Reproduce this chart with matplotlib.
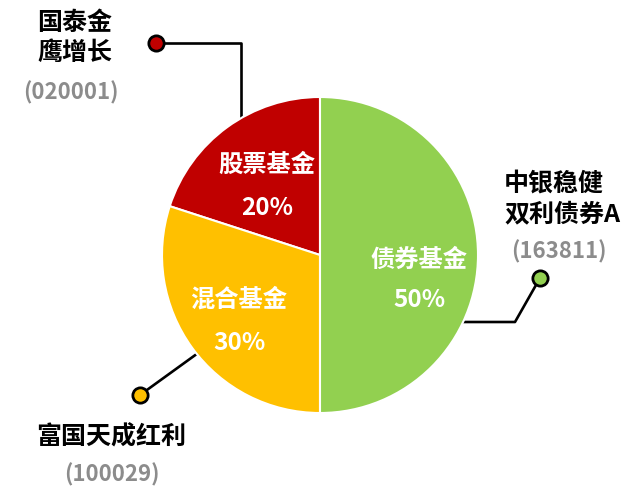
import matplotlib
matplotlib.use("Agg")
import matplotlib.pyplot as plt

plt.rcParams['font.family'] = ['Noto Sans CJK SC', 'DejaVu Sans']

# 基金类型占比
categories = ['股票基金', '混合基金', '债券基金']
shares = [20, 30, 50]
colors = ['#C00000', '#FFC000', '#92D050']

# 代表基金
fund_names = ['国泰金\n鹰增长', '富国天成红利', '中银稳健\n双利债券A']
fund_codes = ['(020001)', '(100029)', '(163811)']

H = 501
fig = plt.figure(figsize=(6.4, 5.01), dpi=100)
ax = fig.add_axes([0, 0, 1, 1])

cx, cy, r = 320, H - 255, 158
wedges, _ = ax.pie(shares, colors=colors, startangle=90, center=(cx, cy), radius=r,
                   wedgeprops=dict(edgecolor='white', linewidth=1.5), frame=True)
ax.set_xlim(0, 640)
ax.set_ylim(0, H)
ax.set_aspect('equal')
ax.axis('off')
for w in wedges:
    w.set_zorder(3)

# 扇区内标签
inner_pos = [(267, 165, 208), (239, 300, 343), (419, 260, 300)]
for cat, val, (x, y1, y2) in zip(categories, shares, inner_pos):
    ax.text(x, H - y1, cat, color='white', fontsize=17.5, fontweight='bold',
            ha='center', va='center', zorder=5)
    ax.text(x, H - y2, f'{val}%', color='white', fontsize=17.5, fontweight='bold',
            ha='center', va='center', zorder=5)

# 引线 (像素坐标)
leaders = [
    [(156, 43), (241, 43), (241, 140)],
    [(140, 395), (205, 348)],
    [(540, 278), (515, 322), (440, 322)],
]
for pts, c in zip(leaders, colors):
    xs = [p[0] for p in pts]
    ys = [H - p[1] for p in pts]
    ax.plot(xs, ys, color='black', lw=1.9, zorder=1)
    ax.plot(xs[0], ys[0], 'o', ms=11, mfc=c, mec='black', mew=2, zorder=2)

# 基金名称
name_pos = [(75, 38, 'center'), (111, 437, 'center'), (504, 199, 'left')]
code_pos = [(71, 93), (112, 475), (559, 252)]
for name, code, (x, y, ha), (cxp, cyp) in zip(fund_names, fund_codes, name_pos, code_pos):
    ax.text(x, H - y, name, color='black', fontsize=18, fontweight='bold',
            ha=ha, va='center', linespacing=1.35, zorder=5)
    ax.text(cxp, H - cyp, code, color='#8C8C8C', fontsize=16, fontweight='bold',
            ha='center', va='center', zorder=5)

fig.savefig('out.png', dpi=100, facecolor='white')
